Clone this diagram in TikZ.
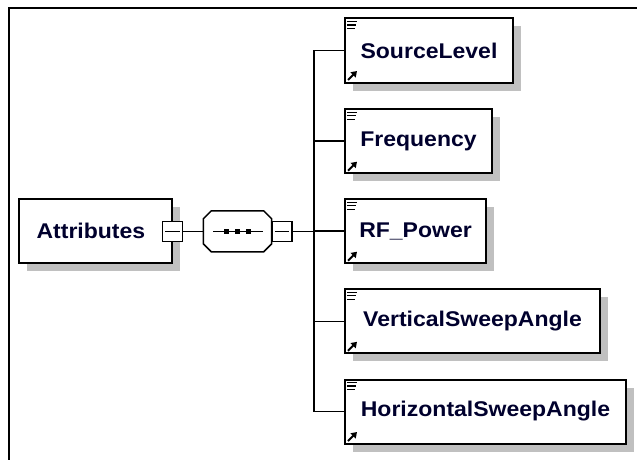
\documentclass[tikz,border=0pt]{standalone}
\usepackage{fontspec}
\newfontfamily\lblfont{Liberation Sans}[FakeStretch=1.08]
\usetikzlibrary{shadows,arrows.meta}
\definecolor{shadowgray}{RGB}{192,192,192}
\definecolor{txt}{RGB}{0,0,45}
\begin{document}
\begin{tikzpicture}[x=1pt,y=-1pt,
  boxshadow/.style={general shadow={fill=shadowgray, shadow xshift=8pt, shadow yshift=-8pt}},
  elem/.style={rectangle, draw=black, line width=2pt, fill=white, minimum height=64pt, inner sep=0pt,
    font=\lblfont\bfseries\fontsize{21.3}{24}\selectfont, text=txt, boxshadow},
  minusbox/.style={rectangle, draw=black, line width=1.5pt, fill=white, minimum size=20pt, inner sep=0pt},
  seqbox/.style={rectangle, minimum width=68pt, minimum height=40.5pt, inner sep=0pt},
  conn/.style={draw=black, line width=1.5pt},
  iconline/.style={draw=black, line width=1.3pt}
]
\useasboundingbox (0,0) rectangle (637,460);
% frame
\draw[line width=2pt] (8.7,461) -- (8.7,7.7) -- (638,7.7);

% root element
\node[elem, minimum width=153pt] (attr) at (95.9,230.9) {Attributes\hspace*{10pt}};

% sequence compositor (octagon)
\node[seqbox] (seq) at (237.5,231.3) {};
\fill[shadowgray, shift={(8,8)}]
  ([shift={(8,0)}]seq.north west) -- ([shift={(-8,0)}]seq.north east) --
  ([shift={(0,8)}]seq.north east) -- ([shift={(0,-8)}]seq.south east) --
  ([shift={(-8,0)}]seq.south east) -- ([shift={(8,0)}]seq.south west) --
  ([shift={(0,-8)}]seq.south west) -- ([shift={(0,8)}]seq.north west) -- cycle;
\filldraw[fill=white, draw=black, line width=1.5pt]
  ([shift={(8,0)}]seq.north west) -- ([shift={(-8,0)}]seq.north east) --
  ([shift={(0,8)}]seq.north east) -- ([shift={(0,-8)}]seq.south east) --
  ([shift={(-8,0)}]seq.south east) -- ([shift={(8,0)}]seq.south west) --
  ([shift={(0,-8)}]seq.south west) -- ([shift={(0,8)}]seq.north west) -- cycle;
\draw[conn] ([xshift=10pt]seq.west) -- ([xshift=-9pt]seq.east);
\foreach \dx in {226.7,237.7,248.3} \fill (\dx-2.4,229) rectangle (\dx+2.4,233.6);

% collapse boxes
\node[minusbox] (m1) at (172.5,231.3) {};
\draw[conn] ([xshift=3.5pt]m1.west) -- ([xshift=-3.5pt]m1.east);
\node[minusbox] (m2) at (282.2,231.3) {};
\draw[conn] ([xshift=3.5pt]m2.west) -- ([xshift=-3.5pt]m2.east);

% children
\node[elem, anchor=west, minimum width=168pt] (c1) at (344,50.5) {SourceLevel};
\node[elem, anchor=west, minimum width=147pt] (c2) at (344,141.2) {Frequency};
\node[elem, anchor=west, minimum width=141pt] (c3) at (344,231.2) {RF\_Power};
\node[elem, anchor=west, minimum width=255pt] (c4) at (344,321.3) {VerticalSweepAngle};
\node[elem, anchor=west, minimum width=281pt] (c5) at (344,411.5) {HorizontalSweepAngle};

% connectors
\draw[conn] (m1.east) -- (seq.west);
\coordinate (bus) at (314,231.3);
\draw[conn] (m2.east) -- (bus);
\foreach \n in {c1,c2,c3,c4,c5} \draw[conn] (bus) |- (\n.west);

% icons
\foreach \n in {c1,c2,c3,c4,c5} {
  \draw[iconline] ([shift={(3,4)}]\n.north west) -- ++(10,0);
  \draw[iconline] ([shift={(3,7.5)}]\n.north west) -- ++(9,0);
  \draw[iconline] ([shift={(3,11)}]\n.north west) -- ++(8,0);
  \draw[line width=2pt, -{Triangle[length=5.5pt,width=7pt]}] ([shift={(4,-3.5)}]\n.south west) -- ++(9,-9);
}
\end{tikzpicture}
\end{document}
